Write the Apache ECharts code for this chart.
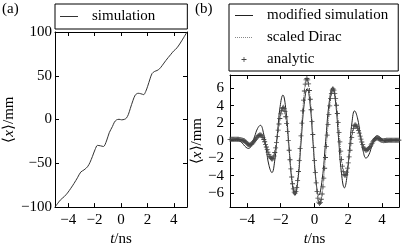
<!DOCTYPE html>
<html>
<head>
<meta charset="utf-8">
<script src="https://cdn.jsdelivr.net/npm/echarts@6/dist/echarts.min.js"></script>
<style>
html,body{margin:0;padding:0;background:#fff;}
#c{width:403px;height:252px;}
</style>
</head>
<body>
<div id="c"></div>
<script>
// ---------- Panel (a): simulation ----------
const simTimesA = [-5, -4.6, -4.3, -4.06, -3.8, -3.56, -3.3, -3.05, -2.8, -2.54,
  -2.35, -2.16, -1.97, -1.78, -1.55, -1.33, -1.1, -0.89, -0.65, -0.5,
  -0.35, -0.15, 0.05, 0.25, 0.4, 0.55, 0.7, 0.9, 1.08, 1.3,
  1.5, 1.72, 1.87, 2.02, 2.2, 2.35, 2.55, 2.73, 2.92, 3.11,
  3.4, 3.75, 4.0, 4.25, 4.63, 5];
const simValsA = [-100, -92, -88, -84, -78.5, -73, -66.5, -60, -57.5, -54,
  -49, -42, -34.5, -29.5, -30, -30.8, -24.5, -15, -8, -3,
  -0.5, 0.3, -0.3, 0.2, 1.5, 5.5, 12.4, 21.5, 28, 30,
  29.5, 28.5, 32, 38, 46.5, 52.5, 55, 56, 58, 61.5,
  67.5, 74, 78.5, 82, 90.7, 100];

// ---------- Panel (b): modified simulation ----------
const modTimes = [-5, -4.75, -4.5, -4.35, -4.2, -4.05, -3.9, -3.725, -3.55, -3.375,
  -3.2, -3.03, -2.86, -2.69, -2.52, -2.358, -2.195, -2.033, -1.87, -1.693,
  -1.515, -1.338, -1.16, -0.978, -0.795, -0.613, -0.43, -0.26, -0.09, 0.08,
  0.25, 0.455, 0.66, 0.865, 1.07, 1.245, 1.42, 1.595, 1.77, 1.92,
  2.07, 2.22, 2.37, 2.54, 2.71, 2.88, 3.05, 3.213, 3.375, 3.538,
  3.7, 3.838, 3.975, 4.113, 4.25, 4.5, 4.75, 5];
const modVals = [0, 0, 0, -0.13, -0.45, -0.77, -0.9, -0.51, 0.425, 1.36,
  1.75, 0.96, -0.95, -2.86, -3.65, -2.35, 0.775, 3.90, 5.2, 3.52,
  -0.525, -4.57, -6.25, -4.46, -0.15, 4.16, 5.95, 4.16, -0.15, -4.46,
  -6.25, -4.44, -0.075, 4.29, 6.1, 4.42, 0.35, -3.72, -5.4, -4.11,
  -1.0, 2.11, 3.4, 2.61, 0.7, -1.21, -2.0, -1.63, -0.725, 0.18,
  0.55, 0.45, 0.2, -0.05, -0.15, -0.05, 0, 0];

// ---------- Panel (b): analytic / scaled Dirac (sampled every 0.05 ns from -5) ----------
const analyticStart = -5;
const analyticStep = 0.05;
const analyticVals = [
  0.15, 0.15, 0.15, 0.15, 0.15, 0.15, 0.16, 0.16, 0.16, 0.16,
  0.15, 0.14, 0.12, 0.09, 0.06, 0.03, 0.0, -0.02, -0.09, -0.19,
  -0.31, -0.41, -0.48, -0.5, -0.48, -0.43, -0.36, -0.25, -0.13, 0.01,
  0.14, 0.28, 0.40, 0.51, 0.58, 0.63, 0.65, 0.62, 0.51, 0.35,
  0.13, -0.13, -0.42, -0.73, -1.03, -1.32, -1.58, -1.80, -1.96, -2.07,
  -2.1, -2.01, -1.76, -1.36, -0.83, -0.20, 0.49, 1.21, 1.90, 2.53,
  3.06, 3.46, 3.71, 3.8, 3.68, 3.31, 2.73, 1.96, 1.03, -0.01,
  -1.1, -2.19, -3.23, -4.16, -4.93, -5.51, -5.88, -6.0, -5.84, -5.35,
  -4.57, -3.53, -2.29, -0.91, 0.55, 2.01, 3.39, 4.63, 5.67, 6.45,
  6.94, 7.1, 6.94, 6.48, 5.73, 4.73, 3.53, 2.16, 0.70, -0.80,
  -2.26, -3.63, -4.83, -5.83, -6.58, -7.04, -7.2, -7.07, -6.70, -6.10,
  -5.28, -4.29, -3.16, -1.93, -0.65, 0.63, 1.86, 2.99, 3.98, 4.80,
  5.40, 5.77, 5.9, 5.78, 5.41, 4.82, 4.04, 3.10, 2.05, 0.95,
  -0.15, -1.20, -2.14, -2.92, -3.51, -3.88, -4.0, -3.90, -3.61, -3.15,
  -2.55, -1.85, -1.1, -0.35, 0.35, 0.95, 1.41, 1.70, 1.8, 1.76,
  1.63, 1.44, 1.17, 0.86, 0.52, 0.18, -0.16, -0.47, -0.74, -0.93,
  -1.06, -1.1, -1.08, -1.02, -0.92, -0.80, -0.65, -0.48, -0.32, -0.15,
  0.0, 0.12, 0.22, 0.28, 0.3, 0.27, 0.22, 0.16, 0.10, 0.05,
  0.02, 0.0, -0.01, 0.0, 0.02, 0.04, 0.05, 0.05, 0.05, 0.05,
  0.05, 0.05, 0.05, 0.05, 0.05, 0.05, 0.05, 0.05, 0.05, 0.05,
  0.05];

// ---------- Axis ticks / labels ----------
const xTicks = [-4, -2, 0, 2, 4];
const yTicksA = [-100, -50, 0, 50, 100];
const yTicksB = [-6, -4, -2, 0, 2, 4, 6];
const seriesNames = ['simulation', 'modified simulation', 'scaled Dirac', 'analytic'];
const panelLabels = ['(a)', '(b)'];
const xName = '{i|t}/ns';
const yName = '⟨{i|x}⟩/mm';

const FONT = 'Liberation Serif';
const fmt = v => String(v).replace('-', '\u2212');
const PLUS = 'path://M0,2.1H5V2.9H0Z M2.1,0H2.9V5H2.1Z';
const ICON_PLUS = 'path://M0,0 M18,12 M6.5,5.6H11.5V6.4H6.5Z M8.6,3.5H9.4V8.5H8.6Z';
const ICON_SOLID = 'path://M0,0 M18,12 M0,5.5H18V6.5H0Z';
let dots = 'path://M0,0 M18,12';
for (let k = 0; k < 18; k += 2) dots += ' M' + k + ',5.5H' + (k + 1) + 'V6.5H' + k + 'Z';
const ICON_DOTTED = dots;

const nameStyle = {fontFamily: FONT, fontSize: 15, color: '#000',
  rich: {i: {fontStyle: 'italic', fontFamily: FONT, fontSize: 15, color: '#000'}}};

function xAx(grid, pos, showLabel, withName) {
  return {
    type: 'value', gridIndex: grid, position: pos, min: -5, max: 5,
    axisLine: {show: true, onZero: false, lineStyle: {color: '#000', width: 1}},
    axisTick: {show: true, inside: true, length: 4, customValues: xTicks, lineStyle: {color: '#000'}},
    axisLabel: {show: showLabel, customValues: xTicks, formatter: fmt, fontFamily: FONT, fontSize: 15, color: '#000', margin: 5},
    splitLine: {show: false},
    name: withName ? xName : '', nameLocation: 'middle', nameGap: 21,
    nameTextStyle: nameStyle
  };
}
function yAx(grid, pos, showLabel, withName, min, max, ticks, margin, gap) {
  return {
    type: 'value', gridIndex: grid, position: pos, min: min, max: max,
    axisLine: {show: true, onZero: false, lineStyle: {color: '#000', width: 1}},
    axisTick: {show: true, inside: true, length: 4, customValues: ticks, lineStyle: {color: '#000'}},
    axisLabel: {show: showLabel, customValues: ticks, formatter: fmt, fontFamily: FONT, fontSize: 15, color: '#000', margin: margin},
    splitLine: {show: false},
    name: withName ? yName : '', nameLocation: 'middle', nameGap: gap,
    nameTextStyle: nameStyle
  };
}

const chart = echarts.init(document.getElementById('c'), null, {renderer: 'canvas'});
chart.setOption({
  animation: false,
  backgroundColor: '#fff',
  textStyle: {fontFamily: FONT},
  grid: [
    {left: 55, right: 216, top: 32, bottom: 37},
    {left: 230, right: 4, top: 75, bottom: 38}
  ],
  xAxis: [
    xAx(0, 'bottom', true, true), xAx(0, 'top', false, false),
    xAx(1, 'bottom', true, true), xAx(1, 'top', false, false)
  ],
  yAxis: [
    yAx(0, 'left', true, true, -100, 100, yTicksA, 3, 38), yAx(0, 'right', false, false, -100, 100, yTicksA, 3, 0),
    yAx(1, 'left', true, true, -7.6, 7.5, yTicksB, 6, 22), yAx(1, 'right', false, false, -7.6, 7.5, yTicksB, 6, 0)
  ],
  legend: [
    {
      data: [{name: seriesNames[0], icon: ICON_SOLID}], left: 55, top: 4, orient: 'horizontal',
      padding: [5, 32, 5, 5], borderColor: '#000', borderWidth: 1, borderRadius: 0,
      itemWidth: 18, itemHeight: 12, selectedMode: false,
      textStyle: {fontFamily: FONT, fontSize: 15, color: '#000', padding: [0, 0, 0, 9]}
    },
    {
      data: [{name: seriesNames[1], icon: ICON_SOLID}, {name: seriesNames[2], icon: ICON_DOTTED}, {name: seriesNames[3], icon: ICON_PLUS}],
      left: 229, top: 4, orient: 'vertical', itemGap: 7,
      padding: [4, 10, 4, 6], borderColor: '#000', borderWidth: 1, borderRadius: 0,
      itemWidth: 18, itemHeight: 12, selectedMode: false,
      textStyle: {fontFamily: FONT, fontSize: 15, color: '#000', padding: [0, 0, 0, 9]}
    }
  ],
  graphic: [
    {type: 'text', left: 2, top: 2, style: {text: panelLabels[0], font: '15px "Liberation Serif"', fill: '#000'}},
    {type: 'text', left: 195, top: 2, style: {text: panelLabels[1], font: '15px "Liberation Serif"', fill: '#000'}}
  ],
  series: [
    {
      name: seriesNames[0], type: 'line', xAxisIndex: 0, yAxisIndex: 0,
      data: simTimesA.map((t, i) => [t, simValsA[i]]),
      smooth: 0.3, symbol: 'none',
      lineStyle: {color: '#333', width: 1}, itemStyle: {color: '#333'}
    },
    {
      name: seriesNames[1], type: 'line', xAxisIndex: 2, yAxisIndex: 2,
      data: modTimes.map((t, i) => [t, modVals[i]]),
      smooth: 0.45, symbol: 'none',
      lineStyle: {color: '#222', width: 1}, itemStyle: {color: '#222'}
    },
    {
      name: seriesNames[2], type: 'line', xAxisIndex: 2, yAxisIndex: 2,
      data: analyticVals.map((v, i) => [analyticStart + i * analyticStep, v]),
      smooth: 0.3, symbol: 'none',
      lineStyle: {color: '#777', width: 1, type: 'dotted'}, itemStyle: {color: '#888'}
    },
    {
      name: seriesNames[3], type: 'scatter', xAxisIndex: 2, yAxisIndex: 2,
      data: analyticVals.map((v, i) => [analyticStart + i * analyticStep, v]),
      symbol: PLUS, symbolSize: 5,
      itemStyle: {color: '#444', opacity: 1}, z: 3
    }
  ]
});
</script>
</body>
</html>
